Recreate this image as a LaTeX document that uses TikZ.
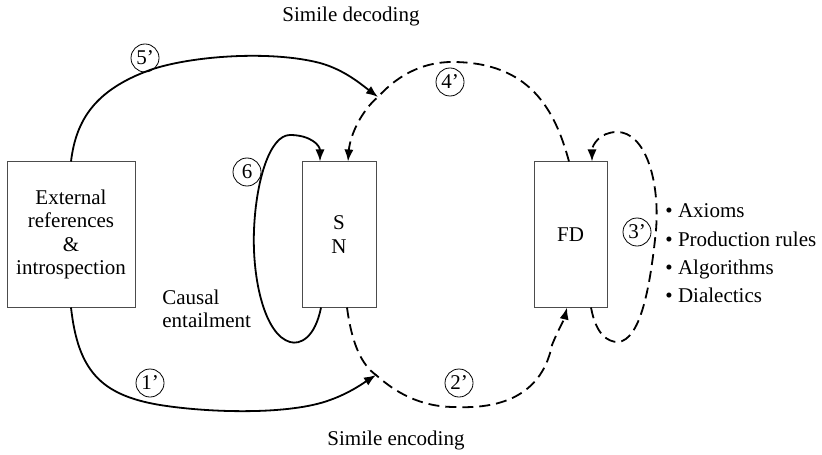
\documentclass[tikz,border=0pt]{standalone}
\usepackage{fontspec}
\setmainfont{Liberation Serif}
\usepackage{tikz}
\usetikzlibrary{positioning}
\usetikzlibrary{arrows.meta}
\usetikzlibrary{calc}

\begin{document}
\begin{tikzpicture}[x=0.5pt, y=-0.5pt, every node/.style={font=\fontsize{10.5}{11.7}\selectfont}]
\tikzstyle{block}=[draw=black!70, line width=0.5pt, minimum height=72.5pt, align=center, inner sep=0pt]
\tikzstyle{num}=[draw, circle, line width=0.4pt, minimum size=14pt, inner sep=0pt]
\tikzstyle{flow}=[line width=0.9pt, -{Latex[length=6pt,width=4.6pt]}]
\tikzstyle{simile}=[flow, dash pattern=on 5.5pt off 3pt]
\useasboundingbox (0,0) rectangle (822,454);

% boxes
\node[block, minimum width=64pt] (ext) at (71,234.5) {External\\references\\\&\\introspection};
\node[block, minimum width=37pt] (sn) at (339,234.5) {S\\N};
\node[block, minimum width=36.5pt] (fd) at (570.5,234.5) {FD};

% texts
\node (dectext) at (351,16) {Simile decoding};
\node (enctext) at (396,440) {Simile encoding};
\node[anchor=west, align=left, inner sep=0pt] (causal) at (162,309) {Causal\\entailment};
\node[anchor=west, align=left, inner sep=0pt, font=\fontsize{10.5}{14.2}\selectfont] (list) at (665,253.5)
  {\textbullet{} Axioms\\\textbullet{} Production rules\\\textbullet{} Algorithms\\\textbullet{} Dialectics};

% numbers
\node[num] (n5) at (145,58) {5’};
\node[num] (n4) at (450,82) {4’};
\node[num] (n6) at (247,172) {6};
\node[num] (n3) at (637,232) {3’};
\node[num] (n1) at (150,383) {1’};
\node[num] (n2) at (459,383) {2’};

\coordinate (dec) at (378,97);
\coordinate (enc) at (376,375);

% decoding
\draw[simile] ($(fd.north)+(-1.5,0)$) .. controls (555,110) and (530,62) .. (452,62)
  .. controls (420,62) and (395,78) .. (dec) .. controls (362,110) and (350,135) .. ($(sn.north)+(9,0)$);
\draw[flow] (ext.north) .. controls (76,120) and (95,90) .. (150,70)
  .. controls (190,56) and (270,50) .. (320,63) .. controls (345,70) and (362,85) .. (dec);

% causal entailment
\draw[flow] ($(sn.south)+(-18,0)$) .. controls (315,338) and (300,345) .. (290,342)
  .. controls (265,335) and (252,280) .. (254,230) .. controls (256,180) and (270,135) .. (290,135)
  .. controls (310,135) and (320,145) .. ($(sn.north)+(-19,0)$);

% encoding
\draw[simile] ($(sn.south)+(8,0)$) .. controls (352,345) and (362,365) .. (enc)
  .. controls (395,392) and (420,407) .. (455,407) .. controls (520,410) and (545,380) .. (552,345)
  .. controls (558,330) and (564,320) .. ($(fd.south)+(-3.5,0)$);
\draw[flow] (ext.south) .. controls (78,370) and (100,395) .. (160,405)
  .. controls (210,413) and (290,415) .. (330,400) .. controls (350,393) and (365,382) .. (enc);

% formal loop
\draw[simile] ($(fd.south)+(20.5,0)$) .. controls (596,335) and (608,342) .. (618,342)
  .. controls (640,340) and (650,290) .. (656,230) .. controls (660,180) and (645,132) .. (617,132)
  .. controls (600,132) and (592,145) .. ($(fd.north)+(21.5,0)$);
\end{tikzpicture}
\end{document}
